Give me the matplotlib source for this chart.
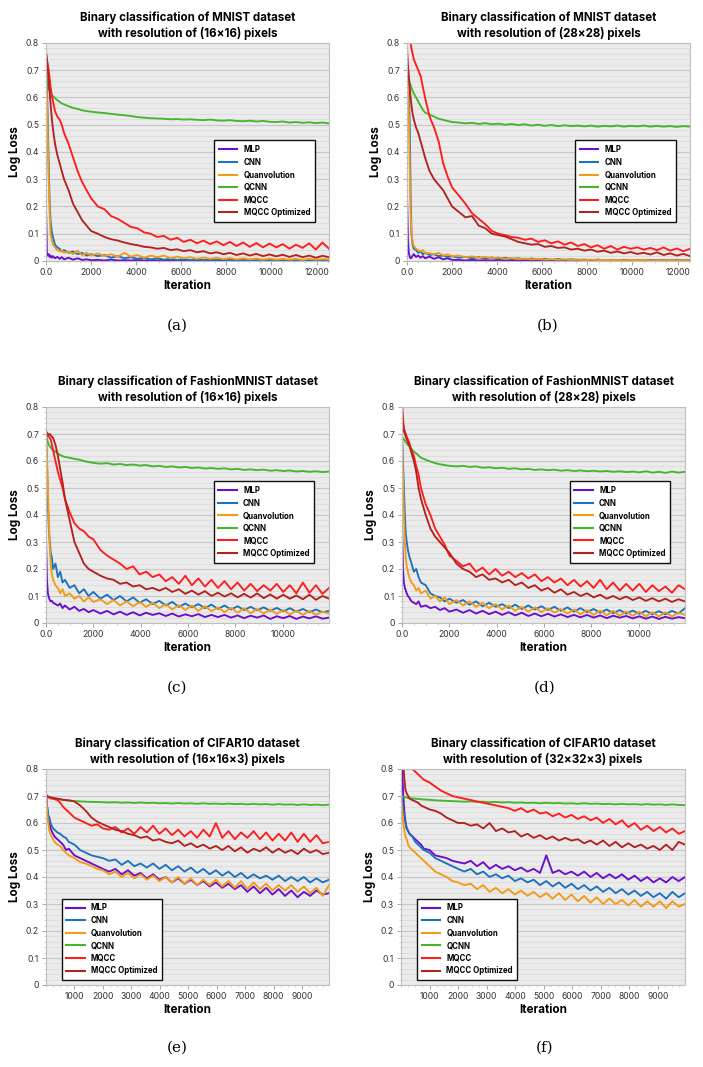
import numpy as np
import matplotlib
matplotlib.use("Agg")
import matplotlib.pyplot as plt
from matplotlib.ticker import MultipleLocator, FixedLocator, FuncFormatter

plt.rcParams['font.family'] = ['Inter', 'DejaVu Sans']

# --- x sampling positions (iterations) per pair of panels ---
EARLY = [0, 40, 80, 120, 160, 200, 250, 300, 400, 500,
         600, 700, 800, 1000, 1200, 1400, 1600, 1800, 2000]
X_MNIST = EARLY + list(np.linspace(2300, 12550, 36))
X_FASHION = EARLY + list(np.linspace(2300, 11950, 36))
X_CIFAR = EARLY + list(np.linspace(2220, 9950, 36))

# --- (a) MNIST 16x16 ---
MLP_A = [0.20, 0.03, 0.02, 0.025, 0.015, 0.02, 0.012, 0.018, 0.01, 0.015,
         0.008, 0.014, 0.006, 0.012, 0.005, 0.01, 0.004, 0.006, 0.003,
         0.004, 0.002, 0.005, 0.002, 0.003, 0.002, 0.004, 0.002, 0.003,
         0.002, 0.003, 0.002, 0.004, 0.002, 0.003, 0.002, 0.003, 0.002,
         0.003, 0.002, 0.003, 0.002, 0.003, 0.002, 0.003, 0.002, 0.003,
         0.002, 0.003, 0.002, 0.003, 0.002, 0.003, 0.002, 0.003, 0.002]
CNN_A = [0.70, 0.65, 0.50, 0.35, 0.22, 0.15, 0.11, 0.09, 0.06, 0.05,
         0.045, 0.035, 0.04, 0.03, 0.035, 0.025, 0.03, 0.02, 0.025,
         0.018, 0.022, 0.012, 0.018, 0.01, 0.014, 0.008, 0.012, 0.006,
         0.01, 0.005, 0.008, 0.004, 0.007, 0.003, 0.006, 0.003, 0.005,
         0.003, 0.005, 0.002, 0.004, 0.002, 0.004, 0.002, 0.003, 0.002,
         0.003, 0.002, 0.003, 0.002, 0.003, 0.002, 0.003, 0.002, 0.003]
QUANV_A = [0.69, 0.60, 0.45, 0.30, 0.18, 0.10, 0.08, 0.06, 0.05, 0.04,
           0.035, 0.04, 0.03, 0.035, 0.025, 0.038, 0.022, 0.03, 0.02,
           0.028, 0.018, 0.025, 0.015, 0.03, 0.016, 0.022, 0.012, 0.02,
           0.014, 0.02, 0.01, 0.016, 0.01, 0.014, 0.008, 0.013, 0.008,
           0.012, 0.007, 0.011, 0.006, 0.01, 0.006, 0.009, 0.005, 0.009,
           0.005, 0.008, 0.005, 0.008, 0.004, 0.008, 0.005, 0.007, 0.006]
QCNN_A = [0.68, 0.66, 0.645, 0.635, 0.625, 0.62, 0.61, 0.605, 0.598, 0.59,
          0.585, 0.578, 0.575, 0.568, 0.562, 0.558, 0.553, 0.55, 0.548,
          0.545, 0.543, 0.54, 0.537, 0.535, 0.532, 0.528, 0.526, 0.524,
          0.523, 0.522, 0.52, 0.521, 0.519, 0.52, 0.518, 0.517, 0.519,
          0.516, 0.515, 0.517, 0.514, 0.513, 0.515, 0.512, 0.514, 0.511,
          0.51, 0.512, 0.508, 0.51, 0.507, 0.509, 0.506, 0.508, 0.505]
MQCC_A = [0.76, 0.74, 0.72, 0.70, 0.67, 0.64, 0.61, 0.59, 0.55, 0.53,
          0.52, 0.50, 0.47, 0.43, 0.38, 0.33, 0.29, 0.26, 0.23,
          0.20, 0.19, 0.165, 0.155, 0.14, 0.125, 0.12, 0.105, 0.10,
          0.088, 0.092, 0.078, 0.085, 0.07, 0.078, 0.065, 0.075, 0.062,
          0.072, 0.058, 0.07, 0.055, 0.068, 0.052, 0.066, 0.05, 0.064,
          0.05, 0.062, 0.045, 0.06, 0.048, 0.065, 0.042, 0.068, 0.045]
MQCCO_A = [0.77, 0.74, 0.70, 0.66, 0.62, 0.58, 0.53, 0.49, 0.43, 0.39,
           0.36, 0.33, 0.30, 0.26, 0.21, 0.18, 0.15, 0.13, 0.11,
           0.10, 0.088, 0.08, 0.075, 0.068, 0.062, 0.058, 0.052, 0.05,
           0.045, 0.048, 0.04, 0.043, 0.036, 0.04, 0.032, 0.036, 0.028,
           0.032, 0.025, 0.03, 0.022, 0.028, 0.02, 0.026, 0.018, 0.024,
           0.017, 0.023, 0.015, 0.022, 0.014, 0.02, 0.012, 0.019, 0.014]

# --- (b) MNIST 28x28 ---
MLP_B = [0.24, 0.08, 0.03, 0.015, 0.01, 0.012, 0.02, 0.025, 0.015, 0.02,
         0.012, 0.018, 0.01, 0.016, 0.008, 0.014, 0.006, 0.01, 0.004,
         0.004, 0.002, 0.004, 0.002, 0.003, 0.002, 0.004, 0.002, 0.003,
         0.002, 0.003, 0.002, 0.003, 0.002, 0.003, 0.002, 0.003, 0.002,
         0.003, 0.002, 0.003, 0.002, 0.003, 0.002, 0.003, 0.002, 0.003,
         0.002, 0.003, 0.002, 0.003, 0.002, 0.003, 0.002, 0.003, 0.002]
CNN_B = [0.68, 0.67, 0.65, 0.50, 0.25, 0.10, 0.06, 0.045, 0.04, 0.03,
         0.035, 0.025, 0.03, 0.022, 0.025, 0.018, 0.02, 0.015, 0.017,
         0.012, 0.015, 0.01, 0.014, 0.009, 0.013, 0.008, 0.012, 0.007,
         0.01, 0.006, 0.009, 0.005, 0.008, 0.004, 0.007, 0.004, 0.006,
         0.004, 0.005, 0.003, 0.005, 0.003, 0.004, 0.003, 0.004, 0.003,
         0.004, 0.003, 0.004, 0.003, 0.004, 0.003, 0.004, 0.003, 0.004]
QUANV_B = [0.68, 0.65, 0.55, 0.35, 0.18, 0.10, 0.07, 0.055, 0.045, 0.04,
           0.035, 0.04, 0.03, 0.028, 0.025, 0.03, 0.02, 0.024, 0.018,
           0.02, 0.014, 0.017, 0.012, 0.015, 0.01, 0.013, 0.008, 0.011,
           0.007, 0.009, 0.006, 0.008, 0.005, 0.007, 0.004, 0.006, 0.004,
           0.005, 0.003, 0.005, 0.003, 0.004, 0.003, 0.004, 0.002, 0.004,
           0.003, 0.004, 0.002, 0.003, 0.002, 0.003, 0.002, 0.003, 0.002]
QCNN_B = [0.68, 0.67, 0.665, 0.655, 0.645, 0.635, 0.625, 0.615, 0.60, 0.585,
          0.57, 0.555, 0.545, 0.537, 0.53, 0.522, 0.518, 0.514, 0.51,
          0.508, 0.505, 0.507, 0.503, 0.506, 0.502, 0.504, 0.50, 0.503,
          0.499, 0.502, 0.497, 0.50, 0.496, 0.499, 0.495, 0.498, 0.495,
          0.497, 0.494, 0.497, 0.493, 0.496, 0.494, 0.497, 0.493, 0.496,
          0.494, 0.497, 0.493, 0.496, 0.493, 0.495, 0.492, 0.495, 0.493]
MQCC_B = [0.90, 0.86, 0.83, 0.81, 0.80, 0.78, 0.76, 0.74, 0.72, 0.70,
          0.68, 0.64, 0.60, 0.53, 0.49, 0.44, 0.36, 0.31, 0.27,
          0.24, 0.21, 0.175, 0.155, 0.135, 0.11, 0.10, 0.095, 0.088,
          0.085, 0.078, 0.082, 0.07, 0.076, 0.065, 0.072, 0.06, 0.068,
          0.055, 0.062, 0.05, 0.058, 0.045, 0.055, 0.042, 0.052, 0.045,
          0.05, 0.042, 0.048, 0.04, 0.05, 0.038, 0.046, 0.036, 0.045]
MQCCO_B = [0.78, 0.72, 0.68, 0.64, 0.60, 0.57, 0.54, 0.52, 0.49, 0.47,
           0.44, 0.41, 0.38, 0.33, 0.30, 0.28, 0.26, 0.23, 0.20,
           0.18, 0.16, 0.165, 0.13, 0.12, 0.10, 0.095, 0.09, 0.08,
           0.07, 0.065, 0.06, 0.062, 0.052, 0.055, 0.048, 0.05, 0.042,
           0.045, 0.038, 0.042, 0.034, 0.038, 0.03, 0.035, 0.028, 0.033,
           0.026, 0.03, 0.024, 0.032, 0.022, 0.028, 0.02, 0.026, 0.018]

# --- (c) FashionMNIST 16x16 ---
MLP_C = [0.31, 0.16, 0.11, 0.095, 0.085, 0.08, 0.082, 0.075, 0.07, 0.065,
         0.072, 0.055, 0.065, 0.05, 0.06, 0.045, 0.052, 0.04, 0.048,
         0.035, 0.045, 0.032, 0.042, 0.03, 0.04, 0.028, 0.038, 0.03,
         0.036, 0.026, 0.035, 0.024, 0.032, 0.025, 0.033, 0.022, 0.03,
         0.022, 0.03, 0.02, 0.028, 0.018, 0.027, 0.02, 0.028, 0.015,
         0.025, 0.018, 0.026, 0.015, 0.024, 0.017, 0.025, 0.016, 0.02]
CNN_C = [0.70, 0.60, 0.45, 0.35, 0.30, 0.26, 0.24, 0.20, 0.22, 0.17,
         0.19, 0.15, 0.16, 0.13, 0.14, 0.11, 0.125, 0.10, 0.115,
         0.09, 0.105, 0.085, 0.10, 0.08, 0.095, 0.075, 0.088, 0.07,
         0.082, 0.065, 0.078, 0.06, 0.072, 0.058, 0.07, 0.055, 0.068,
         0.052, 0.065, 0.05, 0.062, 0.048, 0.06, 0.047, 0.058, 0.045,
         0.056, 0.043, 0.055, 0.042, 0.052, 0.04, 0.05, 0.04, 0.045]
QUANV_C = [0.70, 0.62, 0.50, 0.38, 0.28, 0.22, 0.18, 0.16, 0.14, 0.13,
           0.11, 0.125, 0.10, 0.11, 0.09, 0.10, 0.08, 0.095, 0.078,
           0.088, 0.07, 0.085, 0.065, 0.08, 0.062, 0.078, 0.06, 0.075,
           0.055, 0.07, 0.05, 0.066, 0.048, 0.065, 0.045, 0.062, 0.044,
           0.058, 0.04, 0.056, 0.038, 0.055, 0.036, 0.052, 0.035, 0.05,
           0.034, 0.048, 0.032, 0.046, 0.03, 0.045, 0.03, 0.042, 0.035]
QCNN_C = [0.69, 0.68, 0.67, 0.66, 0.655, 0.65, 0.645, 0.64, 0.635, 0.628,
          0.622, 0.618, 0.615, 0.612, 0.608, 0.605, 0.60, 0.596, 0.593,
          0.59, 0.592, 0.587, 0.589, 0.585, 0.587, 0.583, 0.585, 0.58,
          0.582, 0.578, 0.58, 0.576, 0.578, 0.574, 0.576, 0.572, 0.574,
          0.571, 0.573, 0.569, 0.571, 0.567, 0.569, 0.566, 0.568, 0.564,
          0.566, 0.563, 0.565, 0.561, 0.563, 0.56, 0.562, 0.559, 0.561]
MQCC_C = [0.70, 0.69, 0.695, 0.69, 0.685, 0.68, 0.66, 0.64, 0.60, 0.56,
          0.53, 0.50, 0.46, 0.41, 0.37, 0.35, 0.34, 0.32, 0.31,
          0.27, 0.25, 0.235, 0.22, 0.20, 0.21, 0.18, 0.19, 0.17,
          0.18, 0.155, 0.17, 0.145, 0.175, 0.14, 0.165, 0.135, 0.16,
          0.13, 0.155, 0.125, 0.15, 0.12, 0.145, 0.118, 0.14, 0.12,
          0.145, 0.115, 0.14, 0.11, 0.15, 0.112, 0.14, 0.108, 0.13]
MQCCO_C = [0.71, 0.705, 0.70, 0.698, 0.70, 0.695, 0.69, 0.685, 0.66, 0.62,
           0.57, 0.52, 0.46, 0.38, 0.30, 0.26, 0.22, 0.20, 0.19,
           0.175, 0.165, 0.16, 0.145, 0.15, 0.135, 0.14, 0.125, 0.13,
           0.12, 0.13, 0.115, 0.125, 0.108, 0.12, 0.105, 0.118, 0.10,
           0.112, 0.098, 0.11, 0.095, 0.108, 0.094, 0.11, 0.092, 0.106,
           0.09, 0.105, 0.09, 0.102, 0.088, 0.105, 0.086, 0.10, 0.09]

# --- (d) FashionMNIST 28x28 ---
MLP_D = [0.37, 0.20, 0.15, 0.13, 0.12, 0.11, 0.10, 0.095, 0.08, 0.075,
         0.07, 0.08, 0.06, 0.065, 0.055, 0.06, 0.048, 0.055, 0.042,
         0.05, 0.038, 0.048, 0.035, 0.045, 0.033, 0.042, 0.03, 0.04,
         0.028, 0.038, 0.026, 0.035, 0.025, 0.034, 0.024, 0.032, 0.022,
         0.03, 0.021, 0.03, 0.02, 0.028, 0.018, 0.027, 0.02, 0.026,
         0.017, 0.025, 0.016, 0.024, 0.015, 0.023, 0.016, 0.022, 0.018]
CNN_D = [0.70, 0.60, 0.50, 0.40, 0.33, 0.30, 0.27, 0.25, 0.22, 0.19,
         0.20, 0.17, 0.15, 0.14, 0.11, 0.10, 0.095, 0.08, 0.09,
         0.075, 0.085, 0.068, 0.08, 0.062, 0.075, 0.06, 0.07, 0.055,
         0.068, 0.052, 0.065, 0.05, 0.062, 0.048, 0.06, 0.045, 0.058,
         0.042, 0.055, 0.04, 0.052, 0.038, 0.05, 0.036, 0.048, 0.035,
         0.046, 0.034, 0.045, 0.033, 0.044, 0.032, 0.045, 0.035, 0.055]
QUANV_D = [0.69, 0.55, 0.40, 0.30, 0.24, 0.21, 0.19, 0.17, 0.15, 0.14,
           0.12, 0.13, 0.11, 0.12, 0.09, 0.10, 0.08, 0.095, 0.07,
           0.085, 0.065, 0.08, 0.06, 0.075, 0.055, 0.07, 0.05, 0.065,
           0.045, 0.06, 0.042, 0.058, 0.04, 0.055, 0.038, 0.052, 0.035,
           0.05, 0.032, 0.048, 0.03, 0.046, 0.028, 0.045, 0.027, 0.043,
           0.026, 0.042, 0.025, 0.04, 0.024, 0.04, 0.024, 0.038, 0.03]
QCNN_D = [0.69, 0.685, 0.68, 0.675, 0.67, 0.665, 0.66, 0.655, 0.645, 0.635,
          0.628, 0.62, 0.612, 0.605, 0.598, 0.592, 0.588, 0.585, 0.582,
          0.58, 0.582, 0.578, 0.58, 0.575, 0.577, 0.573, 0.575, 0.571,
          0.573, 0.569, 0.571, 0.567, 0.569, 0.566, 0.568, 0.564, 0.566,
          0.563, 0.565, 0.562, 0.564, 0.561, 0.563, 0.56, 0.562, 0.559,
          0.561, 0.558, 0.562, 0.557, 0.56, 0.556, 0.561, 0.557, 0.56]
MQCC_D = [0.82, 0.76, 0.72, 0.71, 0.70, 0.69, 0.68, 0.67, 0.64, 0.62,
          0.58, 0.55, 0.50, 0.44, 0.40, 0.35, 0.32, 0.29, 0.25,
          0.23, 0.21, 0.22, 0.19, 0.205, 0.18, 0.20, 0.175, 0.19,
          0.17, 0.185, 0.165, 0.18, 0.155, 0.17, 0.15, 0.165, 0.14,
          0.16, 0.135, 0.155, 0.13, 0.16, 0.125, 0.15, 0.12, 0.145,
          0.12, 0.145, 0.115, 0.14, 0.118, 0.135, 0.112, 0.14, 0.125]
MQCCO_D = [0.79, 0.74, 0.71, 0.70, 0.69, 0.68, 0.67, 0.66, 0.63, 0.60,
           0.56, 0.50, 0.46, 0.40, 0.35, 0.32, 0.30, 0.28, 0.26,
           0.22, 0.20, 0.19, 0.17, 0.18, 0.16, 0.165, 0.15, 0.16,
           0.14, 0.15, 0.13, 0.14, 0.12, 0.13, 0.112, 0.125, 0.105,
           0.115, 0.10, 0.11, 0.095, 0.105, 0.09, 0.10, 0.088, 0.098,
           0.085, 0.095, 0.082, 0.092, 0.08, 0.09, 0.078, 0.088, 0.08]

# --- (e) CIFAR10 16x16x3 ---
MLP_E = [0.71, 0.66, 0.62, 0.60, 0.58, 0.57, 0.56, 0.55, 0.54, 0.53,
         0.52, 0.50, 0.505, 0.48, 0.47, 0.46, 0.45, 0.44, 0.43,
         0.42, 0.43, 0.41, 0.425, 0.405, 0.415, 0.395, 0.41, 0.39,
         0.40, 0.38, 0.395, 0.375, 0.39, 0.37, 0.385, 0.365, 0.38,
         0.36, 0.375, 0.355, 0.37, 0.345, 0.365, 0.34, 0.36, 0.335,
         0.355, 0.33, 0.35, 0.325, 0.345, 0.33, 0.35, 0.335, 0.34]
CNN_E = [0.70, 0.66, 0.63, 0.62, 0.60, 0.59, 0.58, 0.575, 0.565, 0.56,
         0.55, 0.545, 0.53, 0.52, 0.50, 0.49, 0.48, 0.475, 0.47,
         0.46, 0.465, 0.445, 0.46, 0.44, 0.45, 0.435, 0.45, 0.43,
         0.445, 0.425, 0.44, 0.42, 0.435, 0.415, 0.43, 0.41, 0.425,
         0.405, 0.42, 0.40, 0.415, 0.395, 0.41, 0.395, 0.405, 0.39,
         0.405, 0.385, 0.40, 0.385, 0.40, 0.38, 0.395, 0.38, 0.39]
QUANV_E = [0.72, 0.64, 0.60, 0.57, 0.56, 0.55, 0.54, 0.53, 0.52, 0.515,
           0.50, 0.49, 0.48, 0.47, 0.455, 0.45, 0.44, 0.43, 0.425,
           0.41, 0.42, 0.40, 0.415, 0.395, 0.41, 0.39, 0.405, 0.385,
           0.40, 0.38, 0.40, 0.375, 0.395, 0.37, 0.39, 0.37, 0.39,
           0.365, 0.385, 0.36, 0.385, 0.355, 0.38, 0.355, 0.375, 0.35,
           0.37, 0.35, 0.37, 0.345, 0.365, 0.34, 0.36, 0.33, 0.37]
QCNN_E = [0.70, 0.698, 0.697, 0.695, 0.694, 0.693, 0.692, 0.691, 0.689, 0.687,
          0.686, 0.684, 0.683, 0.681, 0.68, 0.679, 0.678, 0.678, 0.677,
          0.676, 0.677, 0.675, 0.676, 0.674, 0.676, 0.674, 0.675, 0.673,
          0.674, 0.672, 0.674, 0.672, 0.673, 0.671, 0.673, 0.671, 0.672,
          0.67, 0.672, 0.67, 0.671, 0.669, 0.671, 0.669, 0.67, 0.668,
          0.67, 0.668, 0.669, 0.667, 0.669, 0.667, 0.668, 0.666, 0.668]
MQCC_E = [0.70, 0.698, 0.696, 0.694, 0.692, 0.69, 0.69, 0.688, 0.685, 0.675,
          0.66, 0.65, 0.64, 0.62, 0.61, 0.60, 0.59, 0.595, 0.58,
          0.575, 0.585, 0.565, 0.58, 0.56, 0.585, 0.565, 0.59, 0.56,
          0.58, 0.555, 0.575, 0.55, 0.57, 0.545, 0.575, 0.55, 0.60,
          0.545, 0.57, 0.54, 0.565, 0.545, 0.57, 0.54, 0.565, 0.535,
          0.56, 0.535, 0.565, 0.53, 0.56, 0.53, 0.555, 0.525, 0.53]
MQCCO_E = [0.705, 0.70, 0.698, 0.696, 0.695, 0.694, 0.693, 0.692, 0.69, 0.688,
           0.686, 0.685, 0.684, 0.68, 0.665, 0.645, 0.62, 0.605, 0.595,
           0.585, 0.575, 0.57, 0.56, 0.555, 0.545, 0.55, 0.535, 0.54,
           0.53, 0.525, 0.535, 0.515, 0.525, 0.51, 0.52, 0.505, 0.515,
           0.50, 0.515, 0.495, 0.51, 0.49, 0.505, 0.495, 0.51, 0.49,
           0.505, 0.49, 0.50, 0.485, 0.505, 0.49, 0.50, 0.485, 0.49]

# --- (f) CIFAR10 32x32x3 ---
MLP_F = [0.90, 0.80, 0.70, 0.64, 0.60, 0.58, 0.57, 0.56, 0.55, 0.54,
         0.53, 0.52, 0.505, 0.50, 0.48, 0.475, 0.47, 0.46, 0.455,
         0.45, 0.46, 0.44, 0.455, 0.43, 0.445, 0.43, 0.44, 0.425,
         0.435, 0.42, 0.43, 0.415, 0.48, 0.415, 0.425, 0.41, 0.42,
         0.405, 0.42, 0.40, 0.415, 0.395, 0.41, 0.395, 0.41, 0.39,
         0.405, 0.385, 0.40, 0.38, 0.395, 0.38, 0.40, 0.385, 0.40]
CNN_F = [0.70, 0.68, 0.65, 0.62, 0.60, 0.58, 0.57, 0.56, 0.55, 0.53,
         0.52, 0.51, 0.50, 0.49, 0.47, 0.46, 0.45, 0.44, 0.43,
         0.42, 0.43, 0.41, 0.42, 0.40, 0.41, 0.395, 0.405, 0.385,
         0.395, 0.38, 0.39, 0.37, 0.385, 0.365, 0.38, 0.36, 0.375,
         0.355, 0.37, 0.35, 0.365, 0.345, 0.36, 0.34, 0.355, 0.335,
         0.35, 0.33, 0.345, 0.325, 0.34, 0.32, 0.345, 0.325, 0.34]
QUANV_F = [0.70, 0.65, 0.60, 0.57, 0.55, 0.54, 0.52, 0.51, 0.50, 0.49,
           0.48, 0.47, 0.46, 0.44, 0.42, 0.41, 0.40, 0.385, 0.38,
           0.37, 0.375, 0.355, 0.37, 0.345, 0.36, 0.34, 0.355, 0.335,
           0.35, 0.33, 0.345, 0.325, 0.34, 0.32, 0.34, 0.315, 0.335,
           0.31, 0.33, 0.305, 0.325, 0.30, 0.32, 0.30, 0.315, 0.295,
           0.315, 0.29, 0.31, 0.29, 0.31, 0.285, 0.31, 0.29, 0.30]
QCNN_F = [0.70, 0.698, 0.697, 0.696, 0.695, 0.694, 0.693, 0.692, 0.691, 0.69,
          0.689, 0.688, 0.687, 0.686, 0.684, 0.683, 0.682, 0.681, 0.68,
          0.679, 0.68, 0.678, 0.679, 0.677, 0.678, 0.676, 0.677, 0.675,
          0.676, 0.674, 0.675, 0.673, 0.675, 0.673, 0.674, 0.672, 0.673,
          0.671, 0.673, 0.671, 0.672, 0.67, 0.671, 0.669, 0.671, 0.669,
          0.67, 0.668, 0.67, 0.668, 0.669, 0.667, 0.669, 0.667, 0.666]
MQCC_F = [0.95, 0.93, 0.90, 0.88, 0.86, 0.84, 0.82, 0.81, 0.80, 0.79,
          0.78, 0.77, 0.76, 0.75, 0.735, 0.72, 0.71, 0.70, 0.695,
          0.69, 0.685, 0.68, 0.675, 0.67, 0.665, 0.66, 0.655, 0.645,
          0.655, 0.64, 0.65, 0.635, 0.64, 0.625, 0.635, 0.62, 0.63,
          0.615, 0.625, 0.61, 0.62, 0.60, 0.615, 0.595, 0.61, 0.585,
          0.60, 0.575, 0.59, 0.57, 0.585, 0.565, 0.58, 0.56, 0.57]
MQCCO_F = [0.95, 0.88, 0.82, 0.76, 0.72, 0.71, 0.70, 0.69, 0.685, 0.68,
           0.675, 0.665, 0.66, 0.65, 0.645, 0.635, 0.62, 0.61, 0.60,
           0.60, 0.59, 0.595, 0.58, 0.60, 0.57, 0.58, 0.565, 0.57,
           0.55, 0.56, 0.545, 0.555, 0.54, 0.55, 0.535, 0.545, 0.535,
           0.54, 0.525, 0.535, 0.52, 0.535, 0.515, 0.53, 0.51, 0.525,
           0.51, 0.52, 0.505, 0.515, 0.50, 0.52, 0.50, 0.53, 0.52]

LABELS = ["MLP", "CNN", "Quanvolution", "QCNN", "MQCC", "MQCC Optimized"]
COLORS = ["#6a0dcc", "#1b72bd", "#f29b16", "#46b52e", "#ff1c1c", "#b3221f"]

TITLES = [
    "Binary classification of MNIST dataset\nwith resolution of (16\u00d716) pixels",
    "Binary classification of MNIST dataset\nwith resolution of (28\u00d728) pixels",
    "Binary classification of FashionMNIST dataset\nwith resolution of (16\u00d716) pixels",
    "Binary classification of FashionMNIST dataset\nwith resolution of (28\u00d728) pixels",
    "Binary classification of CIFAR10 dataset\nwith resolution of (16\u00d716\u00d73) pixels",
    "Binary classification of CIFAR10 dataset\nwith resolution of (32\u00d732\u00d73) pixels",
]
PANEL_TAGS = ["(a)", "(b)", "(c)", "(d)", "(e)", "(f)"]

panels = [
    (X_MNIST, [MLP_A, CNN_A, QUANV_A, QCNN_A, MQCC_A, MQCCO_A], 12550),
    (X_MNIST, [MLP_B, CNN_B, QUANV_B, QCNN_B, MQCC_B, MQCCO_B], 12550),
    (X_FASHION, [MLP_C, CNN_C, QUANV_C, QCNN_C, MQCC_C, MQCCO_C], 11950),
    (X_FASHION, [MLP_D, CNN_D, QUANV_D, QCNN_D, MQCC_D, MQCCO_D], 11950),
    (X_CIFAR, [MLP_E, CNN_E, QUANV_E, QCNN_E, MQCC_E, MQCCO_E], 9950),
    (X_CIFAR, [MLP_F, CNN_F, QUANV_F, QCNN_F, MQCC_F, MQCCO_F], 9950),
]

# axes boxes in pixels: left, top, right, bottom
W, H = 703, 1067
boxes = [(46, 43, 329, 261), (407, 43, 690, 261),
         (46, 407, 329, 623), (402, 407, 685, 623),
         (46, 769, 329, 985), (401, 769, 685, 985)]
tag_pos = [(177, 326), (548, 326), (177, 688), (545, 688), (177, 1048), (545, 1048)]
legend_anchor = [("lower right", (0.95, 0.18)), ("lower right", (0.95, 0.18)),
                 ("lower right", (0.948, 0.28)), ("lower right", (0.948, 0.28)),
                 ("lower left", (0.055, 0.023)), ("lower left", (0.056, 0.023))]

fig = plt.figure(figsize=(W / 100, H / 100), dpi=100)

for i, (xs, series, xmax) in enumerate(panels):
    l, t, r, b = boxes[i]
    ax = fig.add_axes([l / W, 1 - b / H, (r - l) / W, (b - t) / H])
    ax.set_facecolor("#ebebeb")
    for ys, lab, col in zip(series, LABELS, COLORS):
        ax.plot(xs, ys, color=col, lw=1.35, label=lab)
    ax.set_xlim(0, xmax)
    ax.set_ylim(0, 0.8)

    ax.yaxis.set_major_locator(MultipleLocator(0.1))
    ax.yaxis.set_minor_locator(MultipleLocator(0.02))
    ax.yaxis.set_major_formatter(FuncFormatter(lambda v, p: "0" if abs(v) < 1e-9 else f"{v:.1f}"))
    if i < 4:
        ax.xaxis.set_major_locator(MultipleLocator(2000))
        ax.xaxis.set_minor_locator(MultipleLocator(500))
        ax.xaxis.set_major_formatter(FuncFormatter(lambda v, p: "0.0" if abs(v) < 1e-9 else f"{v:.0f}"))
    else:
        ax.xaxis.set_major_locator(FixedLocator(list(range(1000, 10000, 1000))))
        ax.xaxis.set_minor_locator(MultipleLocator(250))

    ax.grid(axis="y", which="major", color="#c6c6c6", lw=0.8)
    ax.grid(axis="y", which="minor", color="#d9d9d9", lw=0.5)
    ax.set_axisbelow(True)
    for s in ax.spines.values():
        s.set_color("#c0c0c0")
        s.set_linewidth(0.8)
    ax.tick_params(axis="both", which="major", labelsize=6.2, length=3, width=0.6,
                   color="#999999", labelcolor="#333333", pad=2)
    ax.tick_params(axis="both", which="minor", length=1.5, width=0.4, color="#aaaaaa")

    ax.set_title(TITLES[i], fontsize=8.3, fontweight="bold", pad=4, linespacing=1.3)
    ax.set_ylabel("Log Loss", fontsize=8.4, fontweight="bold", labelpad=3)
    ax.set_xlabel("Iteration", fontsize=8.4, fontweight="bold", labelpad=2)

    loc, anchor = legend_anchor[i]
    leg = ax.legend(loc=loc, bbox_to_anchor=anchor, frameon=True, borderaxespad=0,
                    fancybox=False, framealpha=1, edgecolor="#111111",
                    prop={"weight": "bold", "size": 5.7}, handlelength=2.3,
                    labelspacing=0.45, borderpad=0.6, handletextpad=0.8)
    leg.get_frame().set_linewidth(1.0)
    for ln in leg.get_lines():
        ln.set_linewidth(1.5)

    tx, ty = tag_pos[i]
    fig.text(tx / W, 1 - ty / H, PANEL_TAGS[i], ha="center", va="center",
             fontsize=11, family="DejaVu Serif")

fig.savefig("out.png", dpi=100)
